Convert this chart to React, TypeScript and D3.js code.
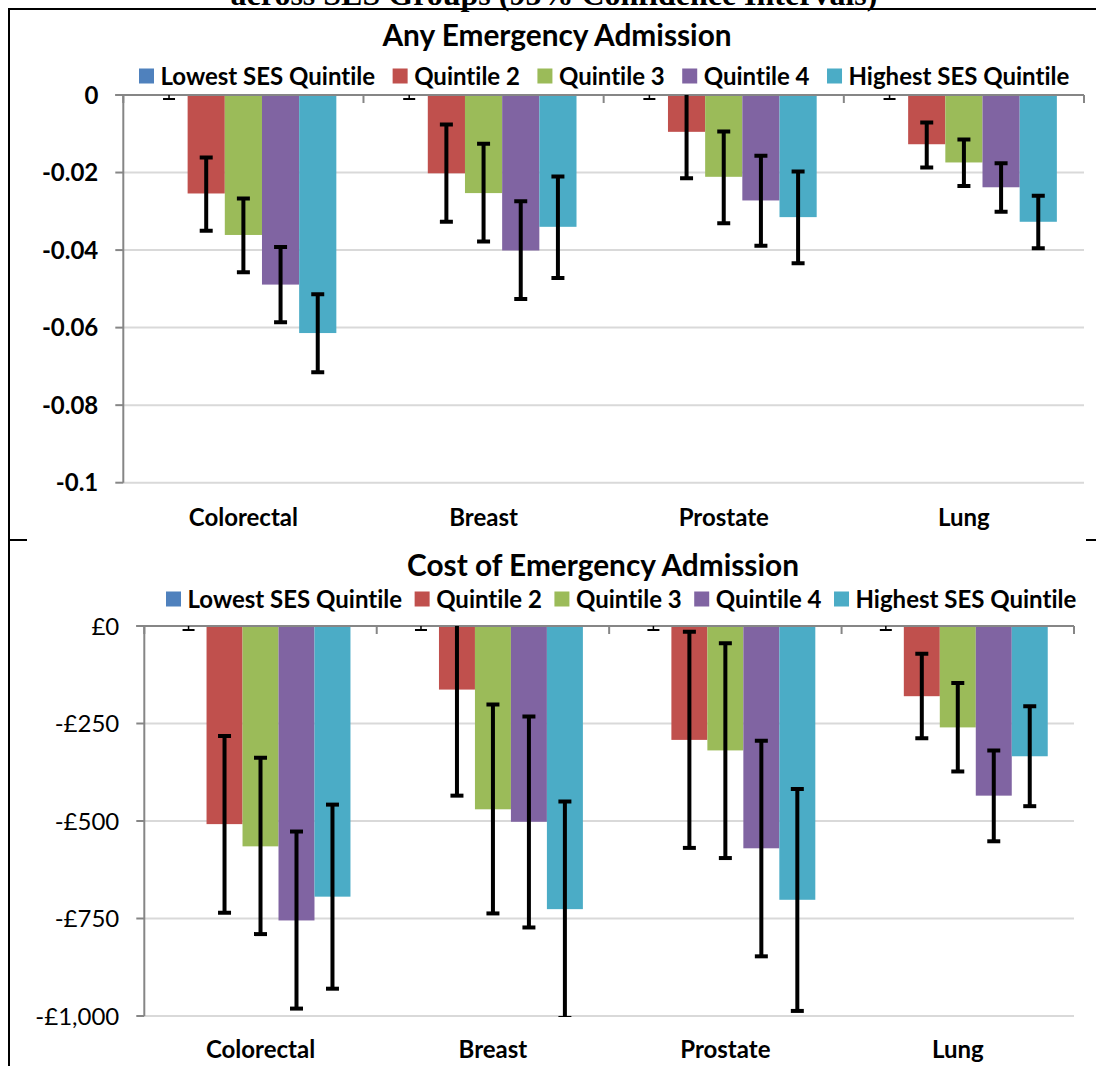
import React, { useEffect, useRef } from 'react';
import * as d3 from 'd3';

// categories + series
const categories = ['Colorectal', 'Breast', 'Prostate', 'Lung'];
const seriesNames = ['Lowest SES Quintile', 'Quintile 2', 'Quintile 3', 'Quintile 4', 'Highest SES Quintile'];
const seriesColors = ['#4F81BD', '#C0504D', '#9BBB59', '#8064A2', '#4BACC6'];

// Any Emergency Admission (difference vs lowest SES quintile)
const anyLowest = [0, 0, 0, 0];
const anyQ2 = [-0.0254, -0.0202, -0.0095, -0.0127];
const anyQ3 = [-0.0361, -0.0253, -0.0211, -0.0174];
const anyQ4 = [-0.0489, -0.0401, -0.0272, -0.0238];
const anyHighest = [-0.0614, -0.034, -0.0315, -0.0327];
const anyLower = [
  [0, 0, 0, 0],
  [-0.035, -0.0327, -0.0215, -0.0187],
  [-0.0457, -0.0378, -0.0331, -0.0235],
  [-0.0586, -0.0526, -0.0389, -0.0301],
  [-0.0715, -0.0472, -0.0434, -0.0395],
];
const anyUpper = [
  [0, 0, 0, 0],
  [-0.0161, -0.0076, 0.001, -0.0071],
  [-0.0267, -0.0126, -0.0094, -0.0115],
  [-0.0392, -0.0274, -0.0157, -0.0176],
  [-0.0514, -0.021, -0.0197, -0.026],
];
const anyTicks = [0, -0.02, -0.04, -0.06, -0.08, -0.1];
const anyTickLabels = ['0', '-0.02', '-0.04', '-0.06', '-0.08', '-0.1'];

// Cost of Emergency Admission (£)
const costLowest = [0, 0, 0, 0];
const costQ2 = [-508, -163, -292, -180];
const costQ3 = [-565, -470, -319, -260];
const costQ4 = [-755, -502, -570, -435];
const costHighest = [-694, -726, -702, -334];
const costLower = [
  [0, 0, 0, 0],
  [-735, -435, -569, -288],
  [-790, -737, -595, -373],
  [-981, -773, -847, -552],
  [-930, -1005, -987, -462],
];
const costUpper = [
  [0, 0, 0, 0],
  [-282, 5, -15, -71],
  [-338, -201, -44, -146],
  [-527, -232, -294, -319],
  [-458, -450, -418, -206],
];
const costTicks = [0, -250, -500, -750, -1000];
const costTickLabels = ['£0', '-£250', '-£500', '-£750', '-£1,000'];

const FONT = 'Lato, "Open Sans", sans-serif';

interface PanelSpec {
  id: string;
  title: string;
  titleX: number;
  titleY: number;
  legendX: number;
  legendY: number;
  legendGap: number;
  left: number;
  right: number;
  top: number;
  bottom: number;
  domainMin: number;
  values: number[][];
  lower: number[][];
  upper: number[][];
  ticks: number[];
  tickLabels: string[];
  boldTicks: boolean;
  catY: number;
}

function drawPanel(svg: d3.Selection<SVGSVGElement, unknown, null, undefined>, p: PanelSpec) {
  const g = svg.append('g').style('font-variant-ligatures', 'none');

  const x0 = d3.scaleBand<string>().domain(categories).range([p.left, p.right]).padding(0);
  const x1 = d3.scaleBand<string>().domain(seriesNames).range([0, x0.bandwidth()]).paddingInner(0).paddingOuter(0.73);
  const y = d3.scaleLinear().domain([p.domainMin, 0]).range([p.bottom, p.top]);

  // gridlines
  p.ticks.forEach((t) => {
    if (t === 0) return;
    g.append('line')
      .attr('x1', p.left).attr('x2', p.right)
      .attr('y1', y(t)).attr('y2', y(t))
      .attr('stroke', '#D9D9D9').attr('stroke-width', 2);
  });

  const clipId = 'clip-' + p.id;
  svg.append('defs').append('clipPath').attr('id', clipId)
    .append('rect').attr('x', p.left - 20).attr('y', p.top).attr('width', p.right - p.left + 40).attr('height', p.bottom - p.top + 1);

  // bars
  const bars = g.append('g');
  seriesNames.forEach((s, si) => {
    categories.forEach((c, ci) => {
      const v = p.values[si][ci];
      if (v === 0) return;
      bars.append('rect')
        .attr('x', (x0(c) ?? 0) + (x1(s) ?? 0))
        .attr('y', y(0))
        .attr('width', x1.bandwidth())
        .attr('height', y(v) - y(0))
        .attr('fill', seriesColors[si]);
    });
  });

  // axes (gray)
  const axisColor = '#868686';
  g.append('line')
    .attr('x1', p.left).attr('x2', p.left)
    .attr('y1', p.top).attr('y2', p.bottom)
    .attr('stroke', axisColor).attr('stroke-width', 2);
  p.ticks.forEach((t) => {
    g.append('line')
      .attr('x1', p.left - 8).attr('x2', p.left)
      .attr('y1', y(t)).attr('y2', y(t))
      .attr('stroke', axisColor).attr('stroke-width', 2);
  });
  g.append('line')
    .attr('x1', p.left - 8).attr('x2', p.right)
    .attr('y1', y(0)).attr('y2', y(0))
    .attr('stroke', axisColor).attr('stroke-width', 2);
  [...categories.map((c) => x0(c) ?? 0), p.right].forEach((xv) => {
    g.append('line')
      .attr('x1', xv).attr('x2', xv)
      .attr('y1', y(0)).attr('y2', y(0) + 8)
      .attr('stroke', axisColor).attr('stroke-width', 2);
  });

  // error bars
  const err = g.append('g').attr('clip-path', `url(#${clipId})`);
  seriesNames.forEach((s, si) => {
    categories.forEach((c, ci) => {
      const cx = (x0(c) ?? 0) + (x1(s) ?? 0) + x1.bandwidth() / 2;
      const lo = p.lower[si][ci];
      const hi = p.upper[si][ci];
      if (lo === hi) {
        // zero-width interval: tiny marker
        err.append('line').attr('x1', cx).attr('x2', cx).attr('y1', y(0)).attr('y2', y(0) + 4)
          .attr('stroke', '#000').attr('stroke-width', 1.5);
        err.append('line').attr('x1', cx - 6).attr('x2', cx + 6).attr('y1', y(0) + 4).attr('y2', y(0) + 4)
          .attr('stroke', '#000').attr('stroke-width', 2);
        return;
      }
      err.append('line').attr('x1', cx).attr('x2', cx).attr('y1', y(hi)).attr('y2', y(lo))
        .attr('stroke', '#000').attr('stroke-width', 4);
      [lo, hi].forEach((v) => {
        err.append('line').attr('x1', cx - 6.5).attr('x2', cx + 6.5).attr('y1', y(v)).attr('y2', y(v))
          .attr('stroke', '#000').attr('stroke-width', 4);
      });
    });
  });

  // y tick labels
  p.ticks.forEach((t, i) => {
    g.append('text')
      .attr('x', p.left - 25)
      .attr('y', y(t))
      .attr('dy', '0.36em')
      .attr('text-anchor', 'end')
      .attr('font-family', FONT)
      .attr('font-weight', p.boldTicks ? 'bold' : 'normal')
      .attr('font-size', 24)
      .attr('fill', '#000')
      .text(p.tickLabels[i]);
  });

  // category labels
  categories.forEach((c) => {
    g.append('text')
      .attr('x', (x0(c) ?? 0) + x0.bandwidth() / 2)
      .attr('y', p.catY)
      .attr('dy', '0.36em')
      .attr('text-anchor', 'middle')
      .attr('font-family', FONT)
      .attr('font-weight', 'bold')
      .attr('font-size', 24)
      .attr('fill', '#000')
      .text(c);
  });

  // title
  g.append('text')
    .attr('x', p.titleX)
    .attr('y', p.titleY)
    .attr('dy', '0.36em')
    .attr('text-anchor', 'middle')
    .attr('font-family', FONT)
    .attr('font-weight', 'bold')
    .attr('font-size', 29.8)
    .attr('fill', '#000')
    .text(p.title);

  // legend (flow layout)
  const lg = g.append('g');
  let cursor = p.legendX;
  seriesNames.forEach((s, si) => {
    lg.append('rect')
      .attr('x', cursor).attr('y', p.legendY - 7.5)
      .attr('width', 15).attr('height', 15)
      .attr('fill', seriesColors[si]);
    const t = lg.append('text')
      .attr('x', cursor + 21.5)
      .attr('y', p.legendY)
      .attr('dy', '0.36em')
      .attr('font-family', FONT)
      .attr('font-weight', 'bold')
      .attr('font-size', 24)
      .attr('fill', '#000')
      .text(s);
    const w = (t.node() as SVGTextElement).getComputedTextLength();
    cursor += 21.5 + w + p.legendGap;
  });
}

export default function App() {
  const svgRef = useRef<SVGSVGElement>(null);

  useEffect(() => {
    if (!svgRef.current) return;
    const svg = d3.select(svgRef.current);
    svg.selectAll('*').remove();

    svg.append('rect').attr('width', 1096).attr('height', 1066).attr('fill', '#fff');

    // clipped heading from the page above
    svg.append('text')
      .attr('x', 554)
      .attr('y', 4.5)
      .attr('text-anchor', 'middle')
      .attr('font-family', '"Liberation Serif", "Times New Roman", serif')
      .attr('font-weight', 'bold')
      .attr('font-size', 32)
      .attr('fill', '#000')
      .text('across SES Groups (95% Confidence Intervals)');

    drawPanel(svg, {
      id: 'any',
      title: 'Any Emergency Admission',
      titleX: 557,
      titleY: 35,
      legendX: 139,
      legendY: 76,
      legendGap: 17.5,
      left: 123.3,
      right: 1084,
      top: 95,
      bottom: 482.7,
      domainMin: -0.1,
      values: [anyLowest, anyQ2, anyQ3, anyQ4, anyHighest],
      lower: anyLower,
      upper: anyUpper,
      ticks: anyTicks,
      tickLabels: anyTickLabels,
      boldTicks: true,
      catY: 517,
    });

    drawPanel(svg, {
      id: 'cost',
      title: 'Cost of Emergency Admission',
      titleX: 603,
      titleY: 565,
      legendX: 166,
      legendY: 599,
      legendGap: 12.5,
      left: 144.3,
      right: 1074,
      top: 626,
      bottom: 1016,
      domainMin: -1000,
      values: [costLowest, costQ2, costQ3, costQ4, costHighest],
      lower: costLower,
      upper: costUpper,
      ticks: costTicks,
      tickLabels: costTickLabels,
      boldTicks: false,
      catY: 1049,
    });

    // table border lines
    const border = svg.append('g').attr('stroke', '#000').attr('stroke-width', 2);
    border.append('line').attr('x1', 8).attr('x2', 1096).attr('y1', 9).attr('y2', 9);
    border.append('line').attr('x1', 9).attr('x2', 9).attr('y1', 8).attr('y2', 1066);
    border.append('line').attr('x1', 9).attr('x2', 27).attr('y1', 540).attr('y2', 540);
    border.append('line').attr('x1', 1086).attr('x2', 1096).attr('y1', 540).attr('y2', 540);
  }, []);

  return (
    <svg
      ref={svgRef}
      width={1096}
      height={1066}
      style={{ position: 'absolute', left: 0, top: 0, display: 'block' }}
    />
  );
}
